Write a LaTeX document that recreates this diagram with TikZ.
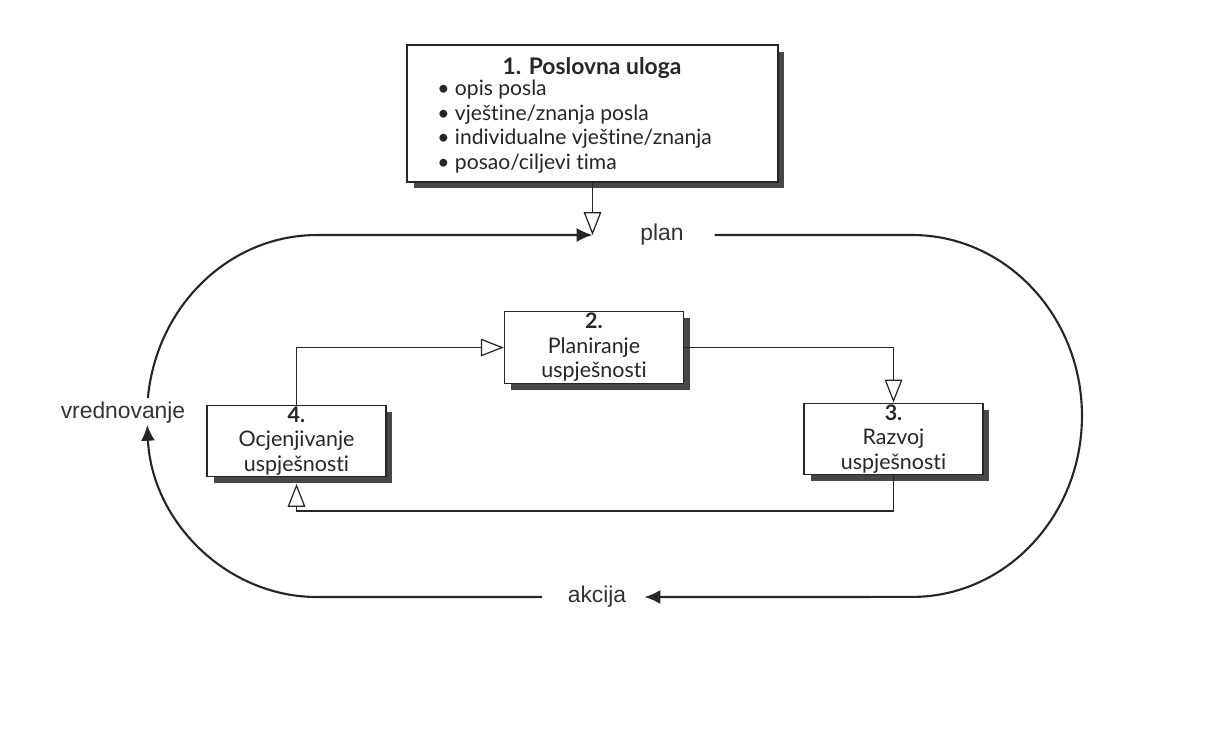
\documentclass[tikz,border=0pt]{standalone}
\usepackage{fontspec}
\setmainfont{Lato}[Ligatures=NoCommon]
\newfontfamily\arialfont{Liberation Sans}
\usetikzlibrary{arrows.meta,shadows}
\begin{document}
\begin{tikzpicture}[x=0.02cm,y=0.02cm,
  box/.style={draw=black!85, line width=0.8pt, fill=white, align=center, inner sep=0pt,
    minimum width=3.58cm, minimum height=1.43cm,
    font=\fontsize{12.2}{14}\selectfont, text=black!85,
    drop shadow={shadow xshift=1.3mm, shadow yshift=-1.3mm, fill=black!72, opacity=1}},
  bigbox/.style={box, minimum width=7.42cm, minimum height=2.74cm},
  boxtxt/.style={font=\fontsize{12}{13.6}\selectfont, text=black!85, inner sep=0pt, anchor=base west},
  loopline/.style={line width=1.2pt, draw=black!85},
  loopcap/.style={font=\arialfont\fontsize{13}{15}\selectfont, text=black!80, inner sep=0pt},
  conn/.style={line width=0.7pt, draw=black!85, -{Triangle[open,length=13pt,width=10pt,fill=white]}},
  tipend/.style={-{Latex[length=9pt,width=8pt]}}]
\useasboundingbox (0,0) rectangle (1226,-753);

% boxes
\node[bigbox] (box1) at (592.5,-113.5) {};
\node[font=\fontsize{13}{15}\selectfont\bfseries, text=black!85, inner sep=0pt, anchor=base] (title) at (592,-75) {1. Poslovna uloga};
\node[boxtxt] (l1) at (437,-96) {• opis posla};
\node[boxtxt] (l2) at (437,-120.5) {• vještine/znanja posla};
\node[boxtxt] (l3) at (437,-145) {• individualne vještine/znanja};
\node[boxtxt] (l4) at (437,-169.5) {• posao/ciljevi tima};

\node[box] (box2) at (594,-347.5) {\textbf{2.}\\Planiranje\\uspješnosti};
\node[box] (box3) at (893.5,-439) {\textbf{3.}\\Razvoj\\uspješnosti};
\node[box] (box4) at (296.5,-441) {\textbf{4.}\\Ocjenjivanje\\uspješnosti};

% loop labels
\node[loopcap] (plan) at (662,-235) {plan};
\node[loopcap] (akcija) at (597,-597) {akcija};
\node[loopcap] (vred) at (123,-413) {vrednovanje};

\coordinate (planjoin) at (592.5,-235);

% loop
\draw[loopline, tipend] (317,-416) ++(174.3:3.4cm and 3.62cm)
  arc[start angle=174.3, end angle=90, x radius=3.4cm, y radius=3.62cm] -- (planjoin);
\draw[loopline, tipend] ([xshift=1.05cm]plan.center |- planjoin) -- (912,-235)
  arc[start angle=90, end angle=-90, x radius=3.4cm, y radius=3.62cm] -- ([xshift=0.95cm]akcija.center);
\draw[loopline, tipend] ([xshift=-1.1cm]akcija.center) -- (317,-597)
  arc[start angle=270, end angle=182.8, x radius=3.4cm, y radius=3.62cm];

% connectors
\draw[conn] (box1.south) -- (planjoin);
\draw[conn] (box4.north) |- (box2.west);
\draw[conn] (box2.east) -| (box3.north);
\coordinate (b4tip) at ([yshift=-1.3mm]box4.south);
\draw[conn] (box3.south) -- (box3.south |- 0,-511) -| (b4tip);
\end{tikzpicture}
\end{document}
